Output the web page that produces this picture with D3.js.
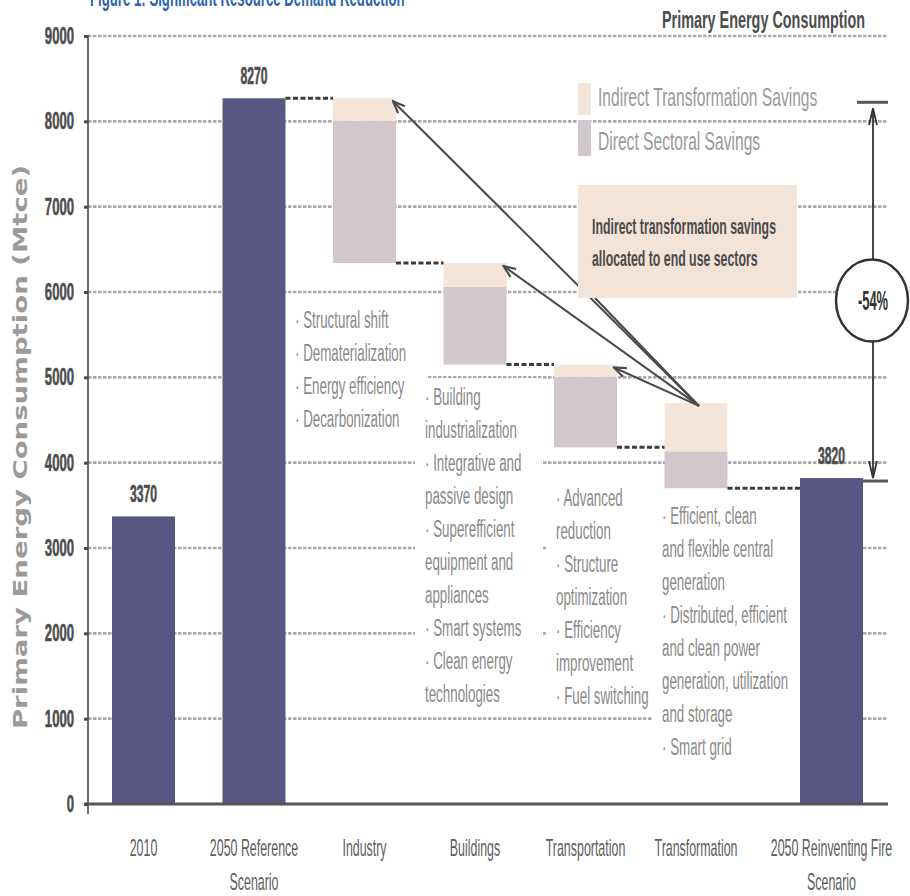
<!DOCTYPE html>
<html>
<head>
<meta charset="utf-8">
<script src="https://cdn.jsdelivr.net/npm/d3@7"></script>
<style>
  body { margin: 0; background: #fff; }
  svg { display: block; font-family: "Liberation Sans", Arial, sans-serif; }
</style>
</head>
<body>
<svg id="chart" width="910" height="896"></svg>
<script>
// ---- Data (Mtce) ----
const categories = ["2010", "2050 Reference Scenario", "Industry", "Buildings",
                    "Transportation", "Transformation", "2050 Reinventing Fire Scenario"];
const categoryLines = [["2010"], ["2050 Reference", "Scenario"], ["Industry"], ["Buildings"],
                       ["Transportation"], ["Transformation"], ["2050 Reinventing Fire", "Scenario"]];

const totalCategories = ["2010", "2050 Reference Scenario", "2050 Reinventing Fire Scenario"];
const totalValues = [3370, 8270, 3820];

const sectors = ["Industry", "Buildings", "Transportation", "Transformation"];
const sectorStart = [8270, 6340, 5150, 4700];
const indirectSavings = [270, 280, 150, 570];
const directSavings = [1660, 910, 820, 430];

const yTickValues = [0, 1000, 2000, 3000, 4000, 5000, 6000, 7000, 8000, 9000];

const sectorNotes = [
  ["· Structural shift", "· Dematerialization", "· Energy efficiency", "· Decarbonization"],
  ["· Building", "industrialization", "· Integrative and", "passive design", "· Superefficient",
   "equipment and", "appliances", "· Smart systems", "· Clean energy", "technologies"],
  ["· Advanced", "reduction", "· Structure", "optimization", "· Efficiency", "improvement", "· Fuel switching"],
  ["· Efficient, clean", "and flexible central", "generation", "· Distributed, efficient",
   "and clean power", "generation, utilization", "and storage", "· Smart grid"]
];

const legendLabels = ["Indirect Transformation Savings", "Direct Sectoral Savings"];
const calloutLines = ["Indirect transformation savings", "allocated to end use sectors"];
const titleText = "Figure 1: Significant Resource Demand Reduction";
const panelTitle = "Primary Energy Consumption";
const yAxisTitle = "Primary Energy Consumption (Mtce)";

// ---- Layout & style ----
const COL = {
  bar: "#5a5683", indirect: "#f5e5d9", direct: "#d3c6cc", grid: "#ababab",
  axis: "#4a4a4a", connector: "#3c3c3c", arrow: "#4a4a4a", text: "#8a8a8a",
  dark: "#4a4a4a", title: "#2f64ad", callout: "#f4e4d7"
};
const plotLeft = 88, plotRight = 888;
const notesLayout = [
  { x: 295, top: 328 }, { x: 425, top: 405 }, { x: 556, top: 506 }, { x: 662, top: 524 }
];
const noteLineH = 33;

const svg = d3.select("#chart");

// Condense text horizontally (narrow typeface look) with a scale transform
function squeeze(sel, k) {
  sel.each(function () {
    const t = d3.select(this);
    const x0 = +t.attr("x") || 0, y0 = +t.attr("y") || 0;
    const prev = t.attr("transform") || "";
    t.attr("x", null).attr("y", null)
      .attr("transform", `${prev} translate(${x0},${y0}) scale(${k},1)`.trim());
  });
  return sel;
}

// ---- Scales ----
const y = d3.scaleLinear().domain([0, 9000]).range([804, 36]);
const x = d3.scaleBand().domain(categories).range([112, 838]).paddingInner(0.43).paddingOuter(0);
const finalGap = 25;
const lastCat = categories[categories.length - 1];
const xPos = c => x(c) + (c === lastCat ? finalGap : 0);
const bw = x.bandwidth();

// ---- Layers ----
const gGrid = svg.append("g");
const gNoteBg = svg.append("g");
const gBars = svg.append("g");
const gConn = svg.append("g");
const gArrows = svg.append("g");
const gCallout = svg.append("g");
const gLegend = svg.append("g");
const gAxis = svg.append("g");
const gText = svg.append("g");

// markers
const defs = svg.append("defs");
defs.append("marker").attr("id", "head").attr("viewBox", "0 0 12 10")
  .attr("refX", 11).attr("refY", 5).attr("markerWidth", 15).attr("markerHeight", 12)
  .attr("markerUnits", "userSpaceOnUse").attr("orient", "auto-start-reverse")
  .append("path").attr("d", "M1,1 L11,5 L1,9").attr("fill", "none")
  .attr("stroke", COL.arrow).attr("stroke-width", 1.8);
defs.append("marker").attr("id", "tall").attr("viewBox", "0 0 18 10")
  .attr("refX", 17).attr("refY", 5).attr("markerWidth", 18).attr("markerHeight", 11)
  .attr("markerUnits", "userSpaceOnUse").attr("orient", "auto-start-reverse")
  .append("path").attr("d", "M0,1 L17,5 L0,9").attr("fill", "none")
  .attr("stroke", "#333").attr("stroke-width", 1.8);

// ---- Gridlines ----
gGrid.selectAll("line").data(yTickValues.filter(v => v > 0)).join("line")
  .attr("x1", plotLeft).attr("x2", plotRight)
  .attr("y1", d => y(d)).attr("y2", d => y(d))
  .attr("stroke", COL.grid).attr("stroke-width", 2.6).attr("stroke-dasharray", "3.5 1.5");

// ---- Sector notes (white backing hides gridlines) ----
sectorNotes.forEach((lines, i) => {
  const L = notesLayout[i];
  const g = gText.append("g");
  g.selectAll("text").data(lines).join("text")
    .attr("x", L.x).attr("y", (d, j) => L.top + j * noteLineH)
    .attr("font-size", 23).attr("fill", COL.text).text(d => d)
    .call(squeeze, 0.58);
  const b = g.node().getBBox();
  gNoteBg.append("rect").attr("x", b.x - 10).attr("y", b.y - 6)
    .attr("width", b.width + 30).attr("height", b.height + 10).attr("fill", "#fff");
});

// ---- Total bars ----
gBars.selectAll("rect.total").data(totalCategories).join("rect").attr("class", "total")
  .attr("x", c => xPos(c)).attr("width", bw)
  .attr("y", (c, i) => y(totalValues[i])).attr("height", (c, i) => y(0) - y(totalValues[i]))
  .attr("fill", COL.bar);

// ---- Sector savings blocks ----
sectors.forEach((s, i) => {
  const top = sectorStart[i];
  const mid = top - indirectSavings[i];
  const bot = mid - directSavings[i];
  gBars.append("rect").attr("x", xPos(s)).attr("width", bw)
    .attr("y", y(top)).attr("height", y(mid) - y(top)).attr("fill", COL.indirect);
  gBars.append("rect").attr("x", xPos(s)).attr("width", bw)
    .attr("y", y(mid)).attr("height", y(bot) - y(mid)).attr("fill", COL.direct);
});

// ---- Dashed connectors ----
const connectors = [];
connectors.push({ from: "2050 Reference Scenario", to: sectors[0], v: totalValues[1] });
sectors.forEach((s, i) => {
  const bot = sectorStart[i] - indirectSavings[i] - directSavings[i];
  const next = categories[categories.indexOf(s) + 1];
  connectors.push({ from: s, to: next, v: bot });
});
gConn.selectAll("line").data(connectors).join("line")
  .attr("x1", d => xPos(d.from) + bw).attr("x2", d => xPos(d.to))
  .attr("y1", d => y(d.v)).attr("y2", d => y(d.v))
  .attr("stroke", COL.connector).attr("stroke-width", 3).attr("stroke-dasharray", "5 2.5");

// ---- Arrows: transformation savings reallocated to end-use sectors ----
const src = [xPos("Transformation") + bw / 2 + 3, y(sectorStart[3]) + 3];
const box = { x: 578, y: 185, w: 219, h: 113 };
gArrows.append("line")
  .attr("x1", box.x + 17).attr("y1", box.y + box.h).attr("x2", src[0]).attr("y2", src[1])
  .attr("stroke", COL.arrow).attr("stroke-width", 2);
sectors.slice(0, 3).forEach((s, i) => {
  gArrows.append("line")
    .attr("x1", src[0]).attr("y1", src[1])
    .attr("x2", xPos(s) + bw - 3).attr("y2", y(sectorStart[i]) + 3)
    .attr("stroke", COL.arrow).attr("stroke-width", 2).attr("marker-end", "url(#head)");
});

// ---- Callout box ----
gCallout.append("rect").attr("x", box.x).attr("y", box.y).attr("width", box.w).attr("height", box.h)
  .attr("fill", COL.callout);
gCallout.selectAll("text").data(calloutLines).join("text")
  .attr("x", box.x + 14).attr("y", (d, i) => box.y + 49 + i * 32)
  .attr("font-size", 22).attr("font-weight", "bold").attr("fill", COL.dark).text(d => d)
  .call(squeeze, 0.56);

// ---- Legend ----
const legendX = 578;
const legendRows = [
  { label: legendLabels[0], color: COL.indirect, y0: 83, y1: 115, base: 106 },
  { label: legendLabels[1], color: COL.direct, y0: 120, y1: 156, base: 150 }
];
legendRows.forEach(r => {
  gLegend.append("rect").attr("x", legendX).attr("y", r.y0).attr("width", 13)
    .attr("height", r.y1 - r.y0).attr("fill", r.color);
  gLegend.append("text").attr("x", legendX + 20).attr("y", r.base)
    .attr("font-size", 26).attr("fill", "#9a9a9a").text(r.label).call(squeeze, 0.6);
});

// ---- Overall reduction marker ----
const refY = y(totalValues[1]), rfY = y(totalValues[2]);
const mx = plotRight - 15;
gCallout.append("line").attr("x1", plotRight - 31).attr("x2", plotRight)
  .attr("y1", refY + 4).attr("y2", refY + 4).attr("stroke", "#555").attr("stroke-width", 3);
gCallout.append("line").attr("x1", xPos(lastCat) + bw).attr("x2", plotRight)
  .attr("y1", rfY + 3).attr("y2", rfY + 3).attr("stroke", "#555").attr("stroke-width", 3);
gCallout.append("line").attr("x1", mx).attr("x2", mx)
  .attr("y1", refY + 10).attr("y2", rfY)
  .attr("stroke", "#333").attr("stroke-width", 1.8)
  .attr("marker-start", "url(#tall)").attr("marker-end", "url(#tall)");
const cy = y(5900);
gCallout.append("ellipse").attr("cx", mx - 1).attr("cy", cy).attr("rx", 36).attr("ry", 41)
  .attr("fill", "#fff").attr("stroke", "#333").attr("stroke-width", 2.5);
const pct = Math.round((totalValues[2] - totalValues[1]) / totalValues[1] * 100);
gCallout.append("text").attr("x", mx).attr("y", cy + 9)
  .attr("text-anchor", "middle").attr("font-size", 27).attr("font-weight", "bold")
  .attr("fill", "#333").text(`${pct}%`).call(squeeze, 0.48);

// ---- Axes ----
gAxis.append("line").attr("x1", plotLeft).attr("x2", plotLeft)
  .attr("y1", y(9000) - 1).attr("y2", y(0) + 10).attr("stroke", COL.axis).attr("stroke-width", 1.6);
gAxis.append("line").attr("x1", plotLeft - 4).attr("x2", plotRight)
  .attr("y1", y(0)).attr("y2", y(0)).attr("stroke", "#555").attr("stroke-width", 3);
const yAxis = d3.axisLeft(y).tickValues(yTickValues).tickSize(4).tickPadding(10).tickFormat(d3.format("d"));
const ya = gAxis.append("g").attr("transform", `translate(${plotLeft},0)`).call(yAxis);
ya.select(".domain").remove();
ya.selectAll(".tick line").attr("stroke", COL.axis).attr("stroke-width", 3);
ya.selectAll(".tick text").attr("font-family", "Liberation Sans, Arial, sans-serif")
  .attr("font-size", 23).attr("font-weight", "bold").attr("fill", "#4d4d4d")
  .attr("stroke", "#4d4d4d").attr("stroke-width", 0.6)
  .call(squeeze, 0.57);

// ---- Value labels ----
gText.selectAll("text.value").data(totalCategories).join("text").attr("class", "value")
  .attr("x", c => xPos(c) + bw / 2).attr("y", (c, i) => y(totalValues[i]) - 14)
  .attr("text-anchor", "middle").attr("font-size", 23).attr("font-weight", "bold")
  .attr("fill", "#4d4d4d").attr("stroke", "#4d4d4d").attr("stroke-width", 0.6)
  .text((c, i) => totalValues[i]).call(squeeze, 0.53);

// ---- Category labels ----
categories.forEach((c, i) => {
  categoryLines[i].forEach((line, j) => {
    gText.append("text").attr("x", xPos(c) + bw / 2).attr("y", 856 + j * 34)
      .attr("text-anchor", "middle").attr("font-size", 23).attr("fill", "#5e5e5e")
      .text(line).call(squeeze, 0.54);
  });
});

// ---- Titles ----
gText.append("text").attr("x", 90).attr("y", 6).attr("font-size", 24).attr("font-weight", "bold")
  .attr("fill", COL.title).text(titleText).call(squeeze, 0.55);
gText.append("text").attr("x", 662).attr("y", 28).attr("font-size", 24).attr("font-weight", "bold")
  .attr("fill", "#4d4d4d").text(panelTitle).call(squeeze, 0.6);
gText.append("text").attr("transform", "translate(20,447) rotate(-90)")
  .attr("text-anchor", "middle").attr("y", 7)
  .attr("font-family", "DejaVu Sans, sans-serif").attr("font-size", 19).attr("font-weight", "bold")
  .attr("fill", "#9a9a9a").text(yAxisTitle).call(squeeze, 1.45);
</script>
</body>
</html>
